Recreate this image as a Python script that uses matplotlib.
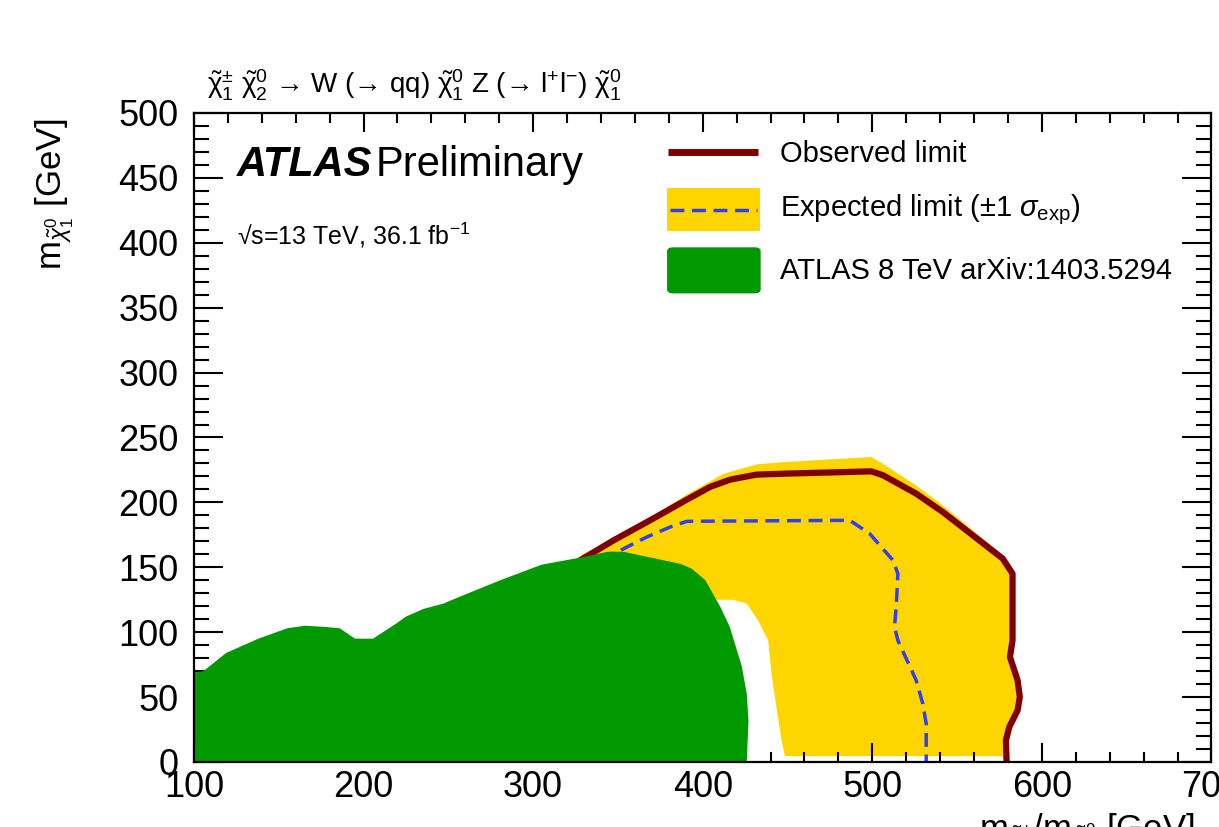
import numpy as np
import matplotlib
matplotlib.use("Agg")
import matplotlib.pyplot as plt
from matplotlib.patches import Rectangle, FancyBboxPatch, Polygon
from matplotlib.ticker import MultipleLocator

plt.rcParams['font.family'] = ['Liberation Sans', 'DejaVu Sans']
plt.rcParams['mathtext.fontset'] = 'custom'
plt.rcParams['mathtext.rm'] = 'Liberation Sans'
plt.rcParams['mathtext.it'] = 'Liberation Sans:italic'
plt.rcParams['mathtext.bf'] = 'Liberation Sans:bold'

# ATLAS 8 TeV excluded region (closed contour down to the x axis)
atlas8_x = [100, 100, 105.6, 119, 138, 155, 165.5, 178, 186, 195, 205.6, 218.5, 225, 235.5, 247, 258,
            280.6, 305, 330, 344, 353, 387, 393.5, 401.6, 410.6, 416, 423, 426, 427, 426]
atlas8_y = [0, 69, 70, 84, 95, 103, 105, 104, 103, 95, 95, 106, 112, 118, 122, 128,
            140, 152, 158, 162, 162, 152.6, 149, 140, 119, 104, 74, 52.6, 32, 0]

# expected limit +1 sigma contour (outer edge of the yellow band)
exp_up_x = [320, 329.8, 349.4, 369, 390.6, 412.2, 431.8, 447.5, 499.4, 506.3, 525.9, 541.6, 576.9,
            583.5, 583.5, 582, 586, 587.5, 586, 581, 579, 579]
exp_up_y = [150, 160.5, 173.3, 188.2, 206, 222, 229.3, 231, 235, 229.8, 213, 197.7, 159.2,
            146.4, 93.7, 81, 63, 50, 40, 27, 17, 4.5]
# expected limit -1 sigma contour (inner edge of the yellow band)
exp_dn_x = [448.5, 446.5, 443.5, 440.6, 438.6, 432.7, 425.9, 418, 409, 395, 370, 340, 320]
exp_dn_y = [4.5, 16.7, 42, 68, 93.7, 109, 122, 125, 125, 125, 110, 130, 150]

# expected limit (median)
exp_x = [340, 351.4, 367, 380.8, 390.6, 486.7, 498.4, 512.2, 515.1, 514.1, 513.1, 515.1, 525.9, 529.8, 531.8, 531.8]
exp_y = [157, 163, 173.3, 181, 185.4, 186.2, 176, 155.4, 145, 119.4, 104, 93.7, 62.9, 44.9, 29.5, 0]

# observed limit
obs_x = [318, 332.7, 347.5, 369, 390.6, 404.3, 416.1, 431.8, 447.5, 499.4, 506.3, 525.9, 541.6, 576.9,
         582.7, 582.7, 581.2, 585.7, 587, 585.7, 580.8, 578.8, 579.2]
obs_y = [148, 159.2, 170.8, 186.2, 202.1, 211.9, 217.5, 221.4, 222.1, 223.9, 220.9, 206.7, 192.6, 156.7,
         145.1, 93.7, 80.9, 62.9, 50.1, 39.8, 27, 16.7, 0]

c_green = '#009900'
c_yellow = '#ffd500'
c_obs = '#800000'
c_exp = '#3040f0'

fig = plt.figure(figsize=(12.19, 8.27), dpi=100)
ax = fig.add_axes([0.1591, 0.0786, 0.8347, 0.7848])

# yellow band = outer contour + inner contour reversed
band = np.column_stack([exp_up_x + [448.5] + exp_dn_x, exp_up_y + [4.5] + exp_dn_y])
ax.add_patch(Polygon(band, closed=True, facecolor=c_yellow, edgecolor='none', zorder=1))
ax.plot(exp_x, exp_y, color=c_exp, lw=2.5, ls=(0, (4, 2.2)), zorder=1.5)
ax.plot(obs_x, obs_y, color=c_obs, lw=4.5, zorder=1.6, solid_joinstyle='round')
ax.fill(atlas8_x, atlas8_y, color=c_green, lw=0, zorder=1.8)

ax.set_xlim(100, 700)
ax.set_ylim(0, 500)
ax.xaxis.set_major_locator(MultipleLocator(100))
ax.xaxis.set_minor_locator(MultipleLocator(20))
ax.yaxis.set_major_locator(MultipleLocator(50))
ax.yaxis.set_minor_locator(MultipleLocator(10))
ax.tick_params(which='both', direction='in', top=True, right=True, width=1.5, labelsize=26)
ax.tick_params(axis='x', which='major', length=14, pad=6)
ax.tick_params(axis='x', which='minor', length=7)
ax.tick_params(axis='y', which='major', length=21, pad=11)
ax.tick_params(axis='y', which='minor', length=10.5)
for s in ax.spines.values():
    s.set_linewidth(1.6)

# legend (drawn by hand, ROOT style)
t = ax.transAxes
ax.plot([0.466, 0.554], [0.940, 0.940], color=c_obs, lw=5, transform=t, zorder=5, solid_capstyle='butt')
ax.add_patch(Rectangle((0.465, 0.818), 0.091, 0.066, facecolor=c_yellow, edgecolor='none', transform=t, zorder=5))
ax.plot([0.468, 0.553], [0.8505, 0.8505], color=c_exp, lw=2.5, ls=(0, (4, 2.2)), transform=t, zorder=6)
ax.add_patch(FancyBboxPatch((0.468, 0.725), 0.086, 0.065, boxstyle='round,pad=0.003,rounding_size=0.006',
                            facecolor=c_green, edgecolor='none', transform=t, zorder=5))
ax.text(0.576, 0.937, 'Observed limit', transform=t, fontsize=21, va='center')
ax.text(0.576, 0.8505, r'Expected limit ($\pm$1 $\sigma_{\rm exp}$)', transform=t, fontsize=21, va='center')
ax.text(0.576, 0.7565, 'ATLAS 8 TeV arXiv:1403.5294', transform=t, fontsize=21, va='center')

ax.text(0.0423, 0.903, 'ATLAS', transform=t, fontsize=30, fontweight='bold', fontstyle='italic')
ax.text(0.1788, 0.903, 'Preliminary', transform=t, fontsize=30)
ax.text(0.0423, 0.797, '√s=13 TeV, 36.1 fb$^{-1}$', transform=t, fontsize=18)

fig.text(0.170, 0.8875,
         r'$\tilde{\mathrm{\chi}}^{\pm}_{1}$ $\tilde{\mathrm{\chi}}^{0}_{2}$ → W (→ qq) $\tilde{\mathrm{\chi}}^{0}_{1}$ '
         r'Z (→ l$^{+}$l$^{-}$) $\tilde{\mathrm{\chi}}^{0}_{1}$',
         fontsize=20, va='baseline')
fig.text(0.045, 0.857, r'm$_{\tilde{\chi}^{0}_{1}}$ [GeV]', rotation=90, fontsize=25, ha='center', va='top')
fig.text(0.980, 0.018, r'm$_{\tilde{\chi}^{\pm}_{1}}$/m$_{\tilde{\chi}^{0}_{2}}$ [GeV]', fontsize=25, ha='right', va='top')

fig.savefig('out.png', dpi=100)
